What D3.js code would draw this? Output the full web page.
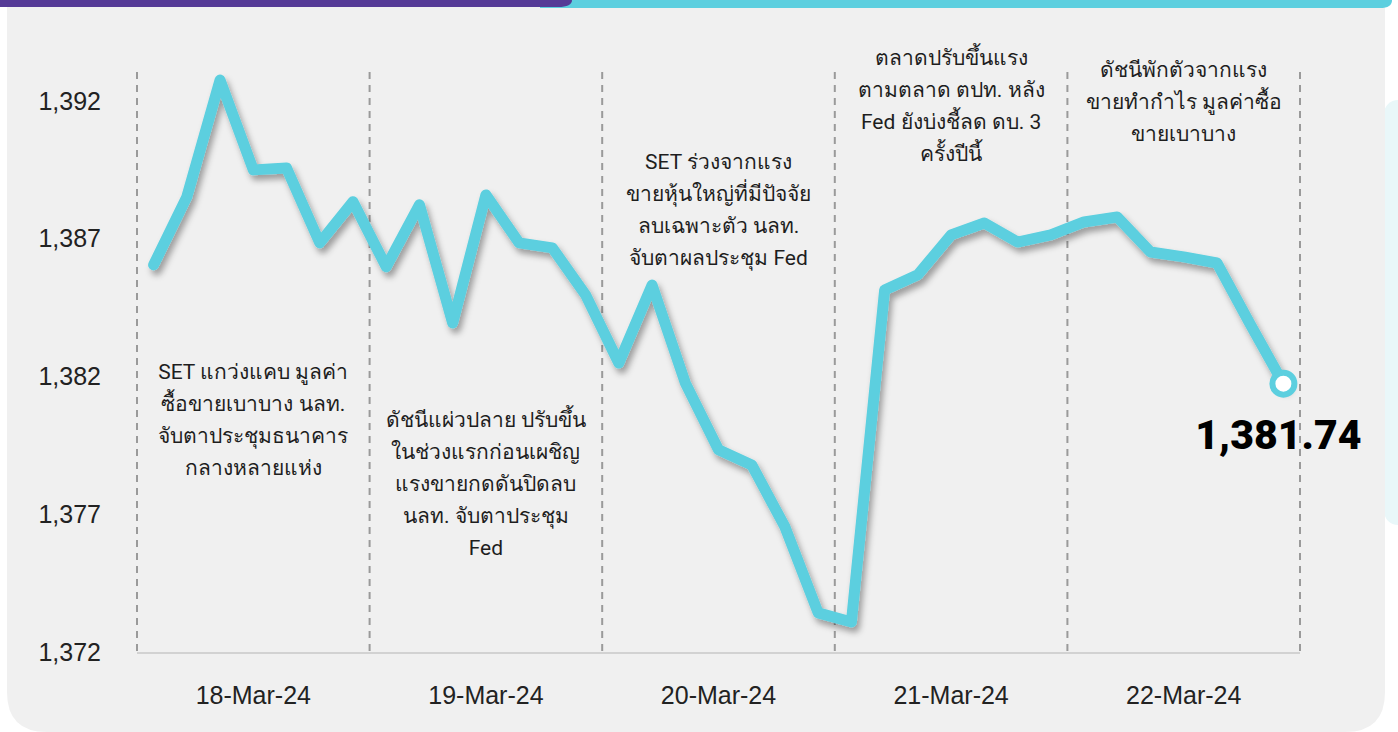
<!DOCTYPE html>
<html>
<head>
<meta charset="utf-8">
<script src="https://cdn.jsdelivr.net/npm/d3@7"></script>
<style>
  html, body { margin: 0; padding: 0; background: #fff; }
  svg { display: block; font-family: Roboto, "Noto Sans", sans-serif; }
</style>
</head>
<body>
<div id="chart"></div>
<script>
// data: 7 readings per trading day
const days = ['18-Mar-24', '19-Mar-24', '20-Mar-24', '21-Mar-24', '22-Mar-24'];
const setIndex = [
  1386.05, 1388.52, 1392.76, 1389.50, 1389.57, 1386.85, 1388.34,
  1385.98, 1388.23, 1383.94, 1388.59, 1386.85, 1386.67, 1384.96,
  1382.49, 1385.32, 1381.77, 1379.34, 1378.79, 1376.54, 1373.42,
  1373.09, 1385.14, 1385.69, 1387.14, 1387.57, 1386.88, 1387.14,
  1387.61, 1387.79, 1386.52, 1386.34, 1386.12, 1383.90, 1381.74
];
const yTicks = [1372, 1377, 1382, 1387, 1392];
const notes = [
  ['SET แกว่งแคบ มูลค่า', 'ซื้อขายเบาบาง นลท.', 'จับตาประชุมธนาคาร', 'กลางหลายแห่ง'],
  ['ดัชนีแผ่วปลาย ปรับขึ้น', 'ในช่วงแรกก่อนเผชิญ', 'แรงขายกดดันปิดลบ', 'นลท. จับตาประชุม', 'Fed'],
  ['SET ร่วงจากแรง', 'ขายหุ้นใหญ่ที่มีปัจจัย', 'ลบเฉพาะตัว นลท.', 'จับตาผลประชุม Fed'],
  ['ตลาดปรับขึ้นแรง', 'ตามตลาด ตปท. หลัง', 'Fed ยังบ่งชี้ลด ดบ. 3', 'ครั้งปีนี้'],
  ['ดัชนีพักตัวจากแรง', 'ขายทำกำไร มูลค่าซื้อ', 'ขายเบาบาง']
];
const noteTop = [372, 420, 162, 58, 70];
const lastLabel = '1,381.74';

const W = 1398, H = 732;
const plot = { left: 137, right: 1300, top: 72, bottom: 653 };
const cyan = '#5ccfdf';

const svg = d3.select('#chart').append('svg')
  .attr('width', W)
  .attr('height', H);

const defs = svg.append('defs');
const shadow = defs.append('filter')
  .attr('id', 'shadow')
  .attr('x', '-10%').attr('y', '-10%')
  .attr('width', '120%').attr('height', '120%');
shadow.append('feDropShadow')
  .attr('dx', 3).attr('dy', 5)
  .attr('stdDeviation', 3)
  .attr('flood-color', '#000')
  .attr('flood-opacity', 0.35);

// background pieces
svg.append('rect')
  .attr('x', 1384).attr('y', 100).attr('width', 60).attr('height', 425)
  .attr('rx', 14)
  .attr('fill', '#e9f7f9');
svg.append('path')
  .attr('d', `M7,0 H1385 V${H - 40} Q1385,${H} 1345,${H} H47 Q7,${H} 7,${H - 40} Z`)
  .attr('fill', '#f0f0f0');
svg.append('path')
  .attr('d', 'M540,0 H1392 V0 Q1392,8 1380,8 H540 Z')
  .attr('fill', cyan);
svg.append('path')
  .attr('d', 'M0,0 H572 Q572,7 558,7 H0 Z')
  .attr('fill', '#553a96');

// scales
const x = d3.scaleLinear()
  .domain([-0.5, setIndex.length - 0.5])
  .range([plot.left, plot.right]);
const band = d3.scaleBand()
  .domain(days)
  .range([plot.left, plot.right]);
const y = d3.scaleLinear()
  .domain([1372, 1392])
  .range([652, 101]);

// day separators
svg.append('g')
  .selectAll('line')
  .data(d3.range(days.length + 1))
  .join('line')
  .attr('x1', i => plot.left + i * band.bandwidth())
  .attr('x2', i => plot.left + i * band.bandwidth())
  .attr('y1', plot.top)
  .attr('y2', plot.bottom)
  .attr('stroke', '#9a9a9a')
  .attr('stroke-width', 2)
  .attr('stroke-dasharray', '7,6');

svg.append('line')
  .attr('x1', plot.left).attr('x2', plot.right)
  .attr('y1', plot.bottom).attr('y2', plot.bottom)
  .attr('stroke', '#d2d2d2')
  .attr('stroke-width', 2);

// axes
const yAxis = svg.append('g')
  .attr('transform', 'translate(101,0)')
  .call(d3.axisLeft(y).tickValues(yTicks).tickSize(0).tickFormat(d3.format(',')));
yAxis.select('.domain').remove();
yAxis.selectAll('text')
  .attr('x', 0)
  .attr('fill', '#222')
  .style('font-size', '25px')
  .style('font-weight', 300);

const xAxis = svg.append('g')
  .attr('transform', `translate(0,${plot.bottom})`)
  .call(d3.axisBottom(band).tickSize(0));
xAxis.select('.domain').remove();
xAxis.selectAll('text')
  .attr('y', 33)
  .attr('fill', '#222')
  .style('font-size', '25px')
  .style('font-weight', 300);

// notes
notes.forEach((lines, i) => {
  svg.append('text')
    .attr('text-anchor', 'middle')
    .attr('fill', '#1e1e1e')
    .style('font-size', '21px')
    .selectAll('tspan')
    .data(lines)
    .join('tspan')
    .attr('x', band(days[i]) + band.bandwidth() / 2)
    .attr('y', (d, j) => noteTop[i] + j * 32)
    .attr('dy', '0.35em')
    .text(d => d);
});

// line
const line = d3.line()
  .x((d, i) => x(i))
  .y(d => y(d));

svg.append('path')
  .datum(setIndex)
  .attr('d', line)
  .attr('fill', 'none')
  .attr('stroke', cyan)
  .attr('stroke-width', 11)
  .attr('stroke-linejoin', 'round')
  .attr('stroke-linecap', 'round')
  .attr('filter', 'url(#shadow)');

const lastI = setIndex.length - 1;
svg.append('circle')
  .attr('cx', x(lastI))
  .attr('cy', y(setIndex[lastI]))
  .attr('r', 11)
  .attr('fill', '#fff')
  .attr('stroke', cyan)
  .attr('stroke-width', 6);

svg.append('text')
  .attr('x', x(lastI) - 5)
  .attr('y', y(setIndex[lastI]) + 65)
  .attr('text-anchor', 'middle')
  .attr('fill', '#000')
  .style('font-size', '41px')
  .style('font-weight', 900)
  .text(lastLabel);
</script>
</body>
</html>
